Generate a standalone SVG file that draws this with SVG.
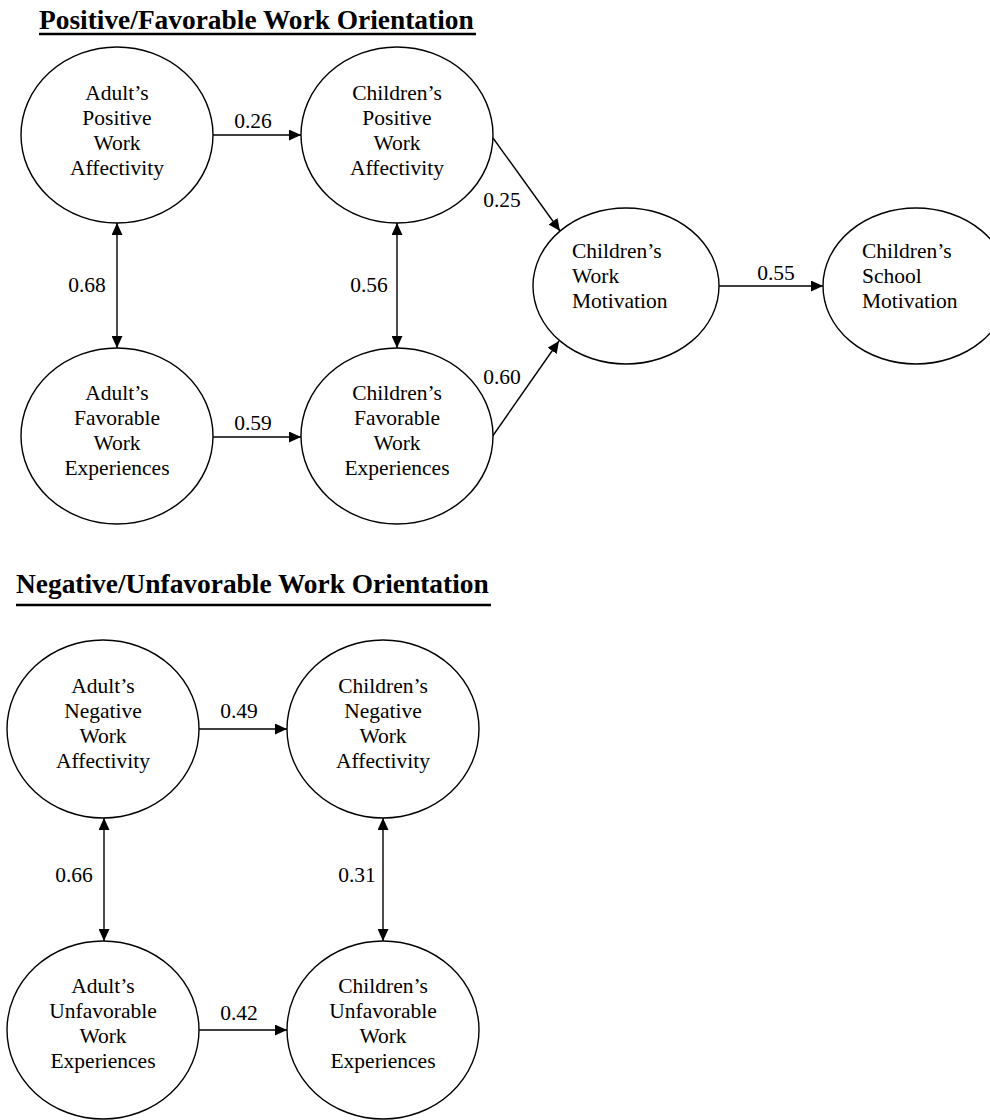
<svg xmlns="http://www.w3.org/2000/svg" width="990" height="1120" viewBox="0 0 990 1120" font-family="'Times New Roman', 'Liberation Serif', 'DejaVu Serif', serif">
<style>
.node ellipse{fill:#fff;stroke:#000;stroke-width:1.4}
.node text{font-size:21.5px;fill:#000;text-anchor:middle}
.node text.left{text-anchor:start}
.lbl{font-size:21.5px;fill:#000;text-anchor:middle}
.title{font-size:27.4px;font-weight:bold;fill:#000}
.edge{stroke:#000;stroke-width:1.4;fill:none}
.ul{stroke:#000;stroke-width:2.7}
</style>
<defs>
<marker id="ah" viewBox="0 0 12 11" refX="12" refY="5.5" markerWidth="12" markerHeight="11" markerUnits="userSpaceOnUse" orient="auto-start-reverse">
<path d="M0,0 L12,5.5 L0,11 z" fill="#000"/>
</marker>
</defs>
<rect width="990" height="1120" fill="#fff"/>

<g id="titles">
<text class="title" x="39" y="29">Positive/Favorable Work Orientation</text>
<line class="ul" x1="39" y1="34" x2="476" y2="34"/>
<text class="title" x="16" y="593">Negative/Unfavorable Work Orientation</text>
<line class="ul" x1="16" y1="605" x2="491" y2="605"/>
</g>

<g id="connectors">
<line class="edge" x1="213" y1="135" x2="301" y2="135" marker-end="url(#ah)"/>
<line class="edge" x1="213" y1="437" x2="301" y2="437" marker-end="url(#ah)"/>
<line class="edge" x1="117" y1="223" x2="117" y2="348" marker-start="url(#ah)" marker-end="url(#ah)"/>
<line class="edge" x1="397" y1="223" x2="397" y2="348" marker-start="url(#ah)" marker-end="url(#ah)"/>
<line class="edge" x1="493" y1="138" x2="560" y2="231" marker-end="url(#ah)"/>
<line class="edge" x1="492" y1="437" x2="559" y2="341" marker-end="url(#ah)"/>
<line class="edge" x1="719" y1="286" x2="823" y2="286" marker-end="url(#ah)"/>
<line class="edge" x1="199" y1="729" x2="287" y2="729" marker-end="url(#ah)"/>
<line class="edge" x1="199" y1="1030" x2="287" y2="1030" marker-end="url(#ah)"/>
<line class="edge" x1="104" y1="818" x2="104" y2="941" marker-start="url(#ah)" marker-end="url(#ah)"/>
<line class="edge" x1="383" y1="818" x2="383" y2="941" marker-start="url(#ah)" marker-end="url(#ah)"/>
<text class="lbl" x="253" y="128">0.26</text>
<text class="lbl" x="253" y="430">0.59</text>
<text class="lbl" x="87" y="292">0.68</text>
<text class="lbl" x="369" y="292">0.56</text>
<text class="lbl" x="502" y="207">0.25</text>
<text class="lbl" x="502" y="384">0.60</text>
<text class="lbl" x="776" y="280">0.55</text>
<text class="lbl" x="239" y="718">0.49</text>
<text class="lbl" x="239" y="1020">0.42</text>
<text class="lbl" x="74" y="882">0.66</text>
<text class="lbl" x="357" y="882">0.31</text>
</g>

<g id="adult-positive" class="node">
<ellipse cx="117" cy="135" rx="96" ry="88"/>
<text x="117" y="100">Adult’s</text>
<text x="117" y="125">Positive</text>
<text x="117" y="150">Work</text>
<text x="117" y="175">Affectivity</text>
</g>
<g id="children-positive" class="node">
<ellipse cx="397" cy="135" rx="96" ry="88"/>
<text x="397" y="100">Children’s</text>
<text x="397" y="125">Positive</text>
<text x="397" y="150">Work</text>
<text x="397" y="175">Affectivity</text>
</g>
<g id="adult-favorable" class="node">
<ellipse cx="117" cy="436" rx="96" ry="88"/>
<text x="117" y="400">Adult’s</text>
<text x="117" y="425">Favorable</text>
<text x="117" y="450">Work</text>
<text x="117" y="475">Experiences</text>
</g>
<g id="children-favorable" class="node">
<ellipse cx="397" cy="436" rx="96" ry="88"/>
<text x="397" y="400">Children’s</text>
<text x="397" y="425">Favorable</text>
<text x="397" y="450">Work</text>
<text x="397" y="475">Experiences</text>
</g>
<g id="children-work-motivation" class="node">
<ellipse cx="626" cy="286" rx="93" ry="78"/>
<text class="left" x="572" y="258">Children’s</text>
<text class="left" x="572" y="283">Work</text>
<text class="left" x="572" y="308">Motivation</text>
</g>
<g id="children-school-motivation" class="node">
<ellipse cx="916" cy="286" rx="93" ry="78"/>
<text class="left" x="862" y="258">Children’s</text>
<text class="left" x="862" y="283">School</text>
<text class="left" x="862" y="308">Motivation</text>
</g>
<g id="adult-negative" class="node">
<ellipse cx="103" cy="729" rx="96" ry="89"/>
<text x="103" y="693">Adult’s</text>
<text x="103" y="718">Negative</text>
<text x="103" y="743">Work</text>
<text x="103" y="768">Affectivity</text>
</g>
<g id="children-negative" class="node">
<ellipse cx="383" cy="729" rx="96" ry="89"/>
<text x="383" y="693">Children’s</text>
<text x="383" y="718">Negative</text>
<text x="383" y="743">Work</text>
<text x="383" y="768">Affectivity</text>
</g>
<g id="adult-unfavorable" class="node">
<ellipse cx="103" cy="1030" rx="96" ry="89"/>
<text x="103" y="993">Adult’s</text>
<text x="103" y="1018">Unfavorable</text>
<text x="103" y="1043">Work</text>
<text x="103" y="1068">Experiences</text>
</g>
<g id="children-unfavorable" class="node">
<ellipse cx="383" cy="1030" rx="96" ry="89"/>
<text x="383" y="993">Children’s</text>
<text x="383" y="1018">Unfavorable</text>
<text x="383" y="1043">Work</text>
<text x="383" y="1068">Experiences</text>
</g>
</svg>
